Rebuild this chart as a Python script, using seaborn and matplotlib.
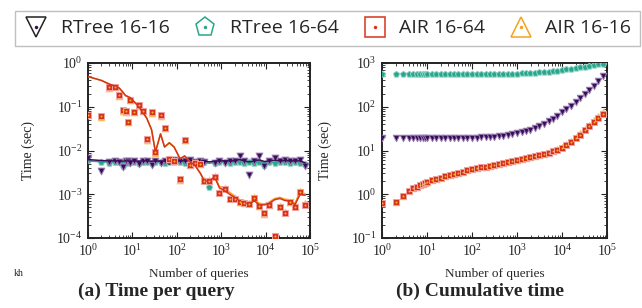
import matplotlib
matplotlib.use('Agg')
import pandas as pd
import seaborn as sns
import matplotlib.pyplot as plt
from matplotlib.lines import Line2D
from matplotlib.ticker import LogLocator, NullFormatter

# ---- (a) time per query ----
x_query = [1, 2, 3, 4, 5, 6, 7, 8, 9,
           11, 14, 17, 21, 27, 33, 43, 53, 68, 87,
           118, 150, 195, 260, 340, 420, 540, 710, 910,
           1200, 1550, 2000, 2600, 3300, 4300, 5600, 7200, 9400,
           12000, 16000, 21000, 27000, 35000, 46000, 60000, 78000]

air64_pts = [0.066, 0.06, 0.28, 0.29, 0.19, 0.083, 0.078, 0.046, 0.145,
             0.076, 0.11, 0.081, 0.018, 0.074, 0.0092, 0.065, 0.033, 0.0065, 0.0058,
             0.0022, 0.0174, 0.0047, 0.0052, 0.0050, 0.0020, 0.0020, 0.0025, 0.00105,
             0.0013, 0.00077, 0.00079, 0.00065, 0.00063, 0.0006, 0.00083, 0.00053, 0.00038,
             0.00056, 0.00011, 0.00052, 0.00038, 0.00065, 0.00052, 0.0011, 0.00056]
air16_pts = [0.064, 0.058, 0.27, 0.28, 0.18, 0.08, 0.075, 0.045, 0.14,
             0.074, 0.105, 0.079, 0.0175, 0.072, 0.009, 0.063, 0.032, 0.0063, 0.0057,
             0.0021, 0.017, 0.0046, 0.0051, 0.0049, 0.0021, 0.0021, 0.0026, 0.0011,
             0.0014, 0.0008, 0.00083, 0.00068, 0.00062, 0.00062, 0.00085, 0.00055, 0.00035,
             0.00058, 0.00011, 0.00054, 0.0004, 0.00068, 0.00055, 0.0012, 0.00062]
rtree16_pts = [0.0068, 0.0034, 0.0055, 0.0058, 0.0056, 0.0042, 0.0058, 0.0057, 0.0052,
               0.0058, 0.0049, 0.0058, 0.0059, 0.0046, 0.0058, 0.0052, 0.0057, 0.0058, 0.0062,
               0.0058, 0.0057, 0.006, 0.0055, 0.0058, 0.0056, 0.0019, 0.0052, 0.0058,
               0.0052, 0.0058, 0.0057, 0.0074, 0.0057, 0.0027, 0.0058, 0.0074, 0.0044,
               0.0058, 0.0066, 0.0058, 0.006, 0.0059, 0.0058, 0.006, 0.0044]
rtree64_pts = [0.0062, 0.0055, 0.0053, 0.0054, 0.0055, 0.0045, 0.0054, 0.0053, 0.0055,
               0.0054, 0.0053, 0.0055, 0.0054, 0.0053, 0.0055, 0.0054, 0.0053, 0.0054, 0.0055,
               0.0054, 0.0053, 0.0054, 0.0055, 0.0053, 0.0054, 0.0015, 0.0053, 0.0054,
               0.0054, 0.0053, 0.0055, 0.0054, 0.0053, 0.0054, 0.0053, 0.0055, 0.0046,
               0.0054, 0.0053, 0.0055, 0.0054, 0.0053, 0.0054, 0.0053, 0.0049]

# smoothed curves drawn through (a)
rtree16_line = [0.0062, 0.0059, 0.0058, 0.0058, 0.0058, 0.0057, 0.0058, 0.0058, 0.0057,
                0.0058, 0.0057, 0.0058, 0.0058, 0.0057, 0.0058, 0.0057, 0.0058, 0.0049, 0.0058,
                0.0058, 0.0058, 0.0059, 0.0058, 0.0058, 0.0057, 0.0055, 0.0057, 0.0058,
                0.0058, 0.0058, 0.0058, 0.0062, 0.0058, 0.0055, 0.0058, 0.0061, 0.0056,
                0.0058, 0.006, 0.0058, 0.0059, 0.0058, 0.0058, 0.0058, 0.0052]
rtree64_line = [0.0058, 0.0055, 0.0054, 0.0054, 0.0054, 0.0052, 0.0054, 0.0054, 0.0054,
                0.0054, 0.0053, 0.0054, 0.0054, 0.0053, 0.0054, 0.0054, 0.0053, 0.0054, 0.0054,
                0.0054, 0.0053, 0.0054, 0.0054, 0.0053, 0.0054, 0.0051, 0.0053, 0.0054,
                0.0054, 0.0053, 0.0054, 0.0054, 0.0053, 0.0053, 0.0053, 0.0054, 0.0052,
                0.0054, 0.0053, 0.0054, 0.0054, 0.0053, 0.0054, 0.0053, 0.005]
air64_line = [0.49, 0.40, 0.33, 0.30, 0.27, 0.22, 0.18, 0.17, 0.16,
              0.13, 0.10, 0.075, 0.055, 0.03, 0.0092, 0.024, 0.012, 0.015, 0.012,
              0.0065, 0.0075, 0.0056, 0.0045, 0.003, 0.002, 0.002, 0.0025, 0.0014,
              0.0012, 0.001, 0.00085, 0.0007, 0.00063, 0.00062, 0.0007, 0.00058, 0.00057,
              0.00062, 0.00075, 0.0008, 0.00072, 0.0007, 0.00058, 0.001, 0.00095]
air16_line = [0.49, 0.40, 0.33, 0.30, 0.27, 0.22, 0.18, 0.17, 0.16,
              0.13, 0.10, 0.075, 0.055, 0.03, 0.0092, 0.024, 0.012, 0.015, 0.012,
              0.0065, 0.0075, 0.0056, 0.0045, 0.003, 0.002, 0.002, 0.0026, 0.0015,
              0.0014, 0.0011, 0.00092, 0.00076, 0.00068, 0.00066, 0.00074, 0.00062, 0.0006,
              0.00066, 0.0008, 0.00085, 0.00077, 0.00075, 0.00062, 0.0012, 0.001]

# ---- (b) cumulative time ----
x_cum = [1, 2, 3, 4, 5, 6, 7, 8, 9, 10,
         13, 16, 20, 25, 32, 40, 50, 63, 79, 100,
         126, 158, 200, 251, 316, 398, 501, 631, 794, 1000,
         1259, 1585, 1995, 2512, 3162, 3981, 5012, 6310, 7943, 10000,
         12589, 15849, 19953, 25119, 31623, 39811, 50119, 63096, 79433]
rtree64_cum = [550, 550, 550, 550, 550, 550, 550, 550, 550, 550,
               550, 551, 551, 552, 552, 553, 553, 554, 555, 556,
               557, 558, 559, 560, 562, 564, 566, 569, 572, 575,
               580, 586, 593, 601, 611, 622, 636, 650, 668, 690,
               712, 738, 765, 795, 828, 862, 898, 935, 970]
rtree16_cum = [19, 19, 19, 19, 19, 19, 19, 19, 19, 19,
               19.1, 19.1, 19.1, 19.1, 19.2, 19.2, 19.3, 19.3, 19.4, 19.5,
               19.7, 19.9, 20.1, 20.4, 20.7, 21.2, 21.8, 22.5, 23.4, 24.5,
               25.9, 27.7, 30, 32.8, 36.4, 40.9, 46.6, 53.7, 62.7, 74,
               88, 106, 130, 160, 197, 245, 305, 390, 510]
air64_cum = [0.62, 0.68, 0.93, 1.2, 1.4, 1.5, 1.6, 1.7, 1.8, 1.9,
             2.1, 2.25, 2.4, 2.55, 2.7, 2.9, 3.1, 3.3, 3.5, 3.7,
             3.9, 4.1, 4.3, 4.5, 4.7, 4.9, 5.1, 5.4, 5.7, 6.0,
             6.3, 6.6, 7.0, 7.4, 7.8, 8.3, 8.9, 9.6, 10.5, 11.5,
             13.5, 15.5, 19, 23, 29, 36, 45, 56, 70]
air16_cum = [0.62, 0.68, 0.93, 1.2, 1.4, 1.5, 1.6, 1.7, 1.8, 1.9,
             2.1, 2.25, 2.4, 2.55, 2.7, 2.9, 3.1, 3.3, 3.5, 3.7,
             3.9, 4.1, 4.3, 4.5, 4.7, 4.9, 5.1, 5.4, 5.7, 6.0,
             6.3, 6.6, 7.0, 7.4, 7.9, 8.4, 9.0, 9.8, 10.8, 11.9,
             14, 16.3, 20, 24.5, 31, 39, 49, 61, 77]

labels = ['RTree 16-16', 'RTree 16-64', 'AIR 16-64', 'AIR 16-16']
colors = {'RTree 16-16': '#3a0d5a', 'RTree 16-64': '#2aa58c',
          'AIR 16-64': '#d63418', 'AIR 16-16': '#f5a21c'}
edges = {'RTree 16-16': '#9b80b4', 'RTree 16-64': '#8fd6c6',
         'AIR 16-64': '#f0a0a0', 'AIR 16-16': '#f8cf80'}
markers = {'RTree 16-16': 'v', 'RTree 16-64': 'p', 'AIR 16-64': 's', 'AIR 16-16': '^'}

sns.set_theme(style='ticks')
plt.rcParams['font.family'] = ['Liberation Serif', 'DejaVu Serif']
plt.rcParams['mathtext.fontset'] = 'stix'

fig = plt.figure(figsize=(6.42, 3.08), dpi=100)
ax1 = fig.add_axes([88 / 642, 1 - 238 / 308, 222 / 642, 175 / 308])
ax2 = fig.add_axes([382 / 642, 1 - 238 / 308, 225 / 642, 175 / 308])

pts = {'RTree 16-16': rtree16_pts, 'RTree 16-64': rtree64_pts,
       'AIR 16-16': air16_pts, 'AIR 16-64': air64_pts}
lines = {'RTree 16-16': rtree16_line, 'RTree 16-64': rtree64_line,
         'AIR 16-16': air16_line, 'AIR 16-64': air64_line}
cums = {'RTree 16-16': rtree16_cum, 'RTree 16-64': rtree64_cum,
        'AIR 16-16': air16_cum, 'AIR 16-64': air64_cum}

draw_order = ['RTree 16-64', 'RTree 16-16', 'AIR 16-16', 'AIR 16-64']
for i, name in enumerate(draw_order):
    df = pd.DataFrame({'x': x_query, 'y': pts[name], 'l': lines[name]})
    sns.scatterplot(data=df, x='x', y='y', marker=markers[name], s=24,
                    color=colors[name], edgecolor=edges[name], linewidth=0.7,
                    ax=ax1, zorder=3 + i)
    sns.lineplot(data=df, x='x', y='l', color=colors[name], lw=1.1,
                 ax=ax1, zorder=3 + i)
    dc = pd.DataFrame({'x': x_cum, 'y': cums[name]})
    sns.scatterplot(data=dc, x='x', y='y', marker=markers[name], s=22,
                    color=colors[name], edgecolor=edges[name], linewidth=0.7,
                    ax=ax2, zorder=3 + i)

# little orange centre dots on the AIR squares
ax1.scatter(x_query, air64_pts, s=2, color='#f7b030', zorder=10, linewidths=0)
ax2.scatter(x_cum, air64_cum, s=2, color='#f7b030', zorder=10, linewidths=0)

for ax, ylim in [(ax1, (1e-4, 1)), (ax2, (1e-1, 1e3))]:
    ax.set_xscale('log')
    ax.set_yscale('log')
    ax.set_xlim(1, 1e5)
    ax.set_ylim(*ylim)
    ax.xaxis.set_major_locator(LogLocator(base=10, numticks=10))
    ax.xaxis.set_minor_locator(LogLocator(base=10, subs=range(2, 10), numticks=20))
    ax.yaxis.set_minor_locator(LogLocator(base=10, subs=range(2, 10), numticks=20))
    ax.xaxis.set_minor_formatter(NullFormatter())
    ax.yaxis.set_minor_formatter(NullFormatter())
    ax.tick_params(which='both', direction='in', top=True, right=True,
                   labelsize=10, color='#222222', pad=4)
    ax.tick_params(which='major', length=4, width=0.8)
    ax.tick_params(which='minor', length=2, width=0.6)
    for sp in ax.spines.values():
        sp.set_linewidth(1.4)
        sp.set_color('#222222')
    ax.set_xlabel('Number of queries', fontsize=9.5)
    ax.set_ylabel('Time (sec)', fontsize=10)
    ax.xaxis.set_label_coords(0.5, -0.17)
    ax.grid(False)

ax1.yaxis.set_label_coords(-0.24, 0.5)
ax2.yaxis.set_label_coords(-0.22, 0.5)

# legend on top
handles = []
for name in labels:
    h1 = Line2D([], [], ls='none', marker=markers[name], markersize=14,
                markerfacecolor='none', markeredgecolor=colors[name] if name != 'RTree 16-16' else '#222222',
                markeredgewidth=1.1)
    h2 = Line2D([], [], ls='none', marker='o', markersize=2.5,
                color=colors[name], markeredgewidth=0)
    handles.append((h1, h2))
leg = fig.legend(handles, labels, loc='upper left', bbox_to_anchor=(0.008, 0.997),
                 ncol=4, frameon=True, fancybox=False, handlelength=1.3,
                 handletextpad=0.6, columnspacing=1.2, borderpad=0.45,
                 prop={'family': 'Open Sans', 'size': 14})
leg.get_frame().set_edgecolor('#b0b0b0')
leg.get_frame().set_linewidth(1.0)

fig.text(14 / 642, 1 - 274 / 308, 'kh', fontsize=7, va='center')
fig.text(156 / 642, 1 - 291 / 308, '(a) Time per query', fontsize=14,
         fontweight='bold', ha='center', va='center')
fig.text(480 / 642, 1 - 291 / 308, '(b) Cumulative time', fontsize=14,
         fontweight='bold', ha='center', va='center')

fig.savefig('out.png', dpi=100)
